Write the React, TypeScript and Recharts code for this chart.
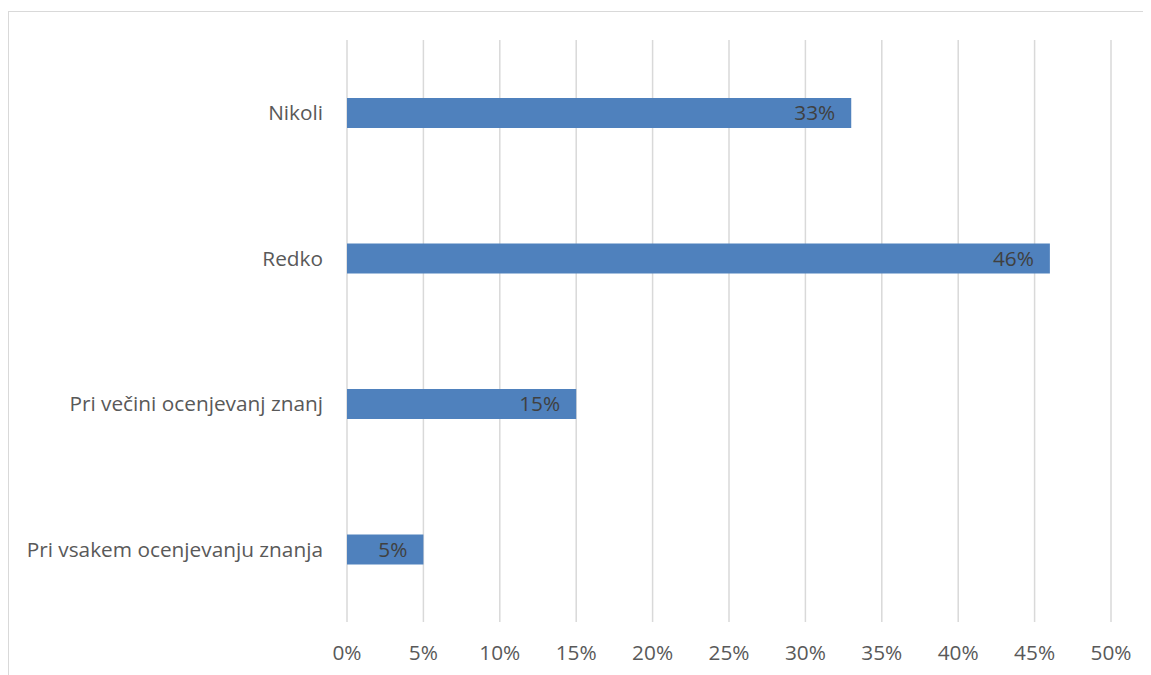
import { Bar, BarChart, CartesianGrid, LabelList, XAxis, YAxis } from "recharts";

const categories = [
  "Nikoli",
  "Redko",
  "Pri večini ocenjevanj znanj",
  "Pri vsakem ocenjevanju znanja",
];
const shares = [33, 46, 15, 5];
const xTicks = [0, 5, 10, 15, 20, 25, 30, 35, 40, 45, 50];

const data = categories.map((name, i) => ({ name, value: shares[i] }));

const font = "'Open Sans', sans-serif";

export default function App() {
  return (
    <div
      style={{
        marginTop: 3,
        width: 1142,
        height: 663,
        borderTop: "1px solid #d9d9d9",
        borderLeft: "1px solid #d9d9d9",
        fontFamily: font,
      }}
    >
      <BarChart
        width={1142}
        height={663}
        data={data}
        layout="vertical"
        margin={{ top: 28, right: 40, bottom: 0, left: 0 }}
        barCategoryGap={0}
      >
        <CartesianGrid horizontal={false} stroke="#d9d9d9" strokeWidth={1.5} />
        <XAxis
          type="number"
          domain={[0, 50]}
          ticks={xTicks}
          tickFormatter={(v) => `${v}%`}
          axisLine={false}
          tickLine={false}
          tickSize={0}
          tickMargin={23}
          height={53}
          tick={{ fill: "#595959", fontSize: 20.8, fontFamily: font }}
        />
        <YAxis
          type="category"
          dataKey="name"
          width={338}
          axisLine={false}
          tickLine={false}
          tickSize={0}
          tickMargin={24}
          tick={{ fill: "#595959", fontSize: 20.8, fontFamily: font }}
        />
        <Bar dataKey="value" fill="#4f81bd" barSize={30} isAnimationActive={false}>
          <LabelList
            dataKey="value"
            position="insideRight"
            offset={16}
            formatter={(v) => `${v}%`}
            fill="#404040"
            fontSize={20.8}
            fontFamily={font}
          />
        </Bar>
      </BarChart>
    </div>
  );
}
